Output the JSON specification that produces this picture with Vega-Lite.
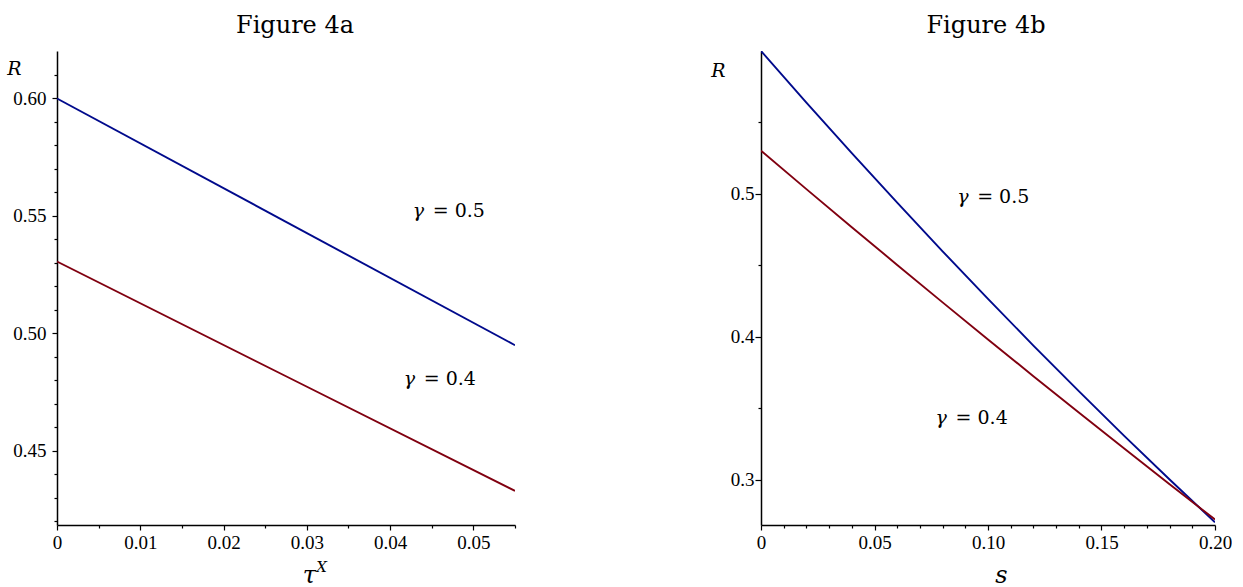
{
  "$schema": "https://vega.github.io/schema/vega-lite/v6.json",
  "padding": {"left": 6, "top": 14, "right": 0, "bottom": 0},
  "background": "white",
  "spacing": 194,
  "config": {
    "view": {"stroke": null},
    "axis": {
      "grid": false,
      "domainColor": "#000000",
      "domainWidth": 1.5,
      "tickColor": "#000000",
      "tickWidth": 1.2,
      "labelColor": "#000000",
      "labelFont": "Liberation Serif",
      "labelFontSize": 19,
      "labelOverlap": false,
      "titleFont": "DejaVu Serif",
      "titleFontStyle": "italic",
      "titleFontWeight": "normal",
      "titleColor": "#000000"
    },
    "title": {"font": "DejaVu Serif", "fontSize": 24, "fontWeight": "normal", "color": "#000000"}
  },
  "datasets": {
    "curves": [
      {"panel": "a", "x": 0, "R": 0.600, "gamma": "0.5"},
      {"panel": "a", "x": 0.0275, "R": 0.5475, "gamma": "0.5"},
      {"panel": "a", "x": 0.055, "R": 0.495, "gamma": "0.5"},
      {"panel": "a", "x": 0, "R": 0.5306, "gamma": "0.4"},
      {"panel": "a", "x": 0.0275, "R": 0.4818, "gamma": "0.4"},
      {"panel": "a", "x": 0.055, "R": 0.4330, "gamma": "0.4"},
      {"panel": "b", "x": 0, "R": 0.600, "gamma": "0.5"},
      {"panel": "b", "x": 0.02, "R": 0.5639, "gamma": "0.5"},
      {"panel": "b", "x": 0.04, "R": 0.5286, "gamma": "0.5"},
      {"panel": "b", "x": 0.06, "R": 0.4939, "gamma": "0.5"},
      {"panel": "b", "x": 0.08, "R": 0.4599, "gamma": "0.5"},
      {"panel": "b", "x": 0.10, "R": 0.4266, "gamma": "0.5"},
      {"panel": "b", "x": 0.12, "R": 0.3940, "gamma": "0.5"},
      {"panel": "b", "x": 0.14, "R": 0.3621, "gamma": "0.5"},
      {"panel": "b", "x": 0.16, "R": 0.3308, "gamma": "0.5"},
      {"panel": "b", "x": 0.18, "R": 0.3003, "gamma": "0.5"},
      {"panel": "b", "x": 0.20, "R": 0.2704, "gamma": "0.5"},
      {"panel": "b", "x": 0, "R": 0.5303, "gamma": "0.4"},
      {"panel": "b", "x": 0.02, "R": 0.5034, "gamma": "0.4"},
      {"panel": "b", "x": 0.04, "R": 0.4768, "gamma": "0.4"},
      {"panel": "b", "x": 0.06, "R": 0.4504, "gamma": "0.4"},
      {"panel": "b", "x": 0.08, "R": 0.4242, "gamma": "0.4"},
      {"panel": "b", "x": 0.10, "R": 0.3983, "gamma": "0.4"},
      {"panel": "b", "x": 0.12, "R": 0.3726, "gamma": "0.4"},
      {"panel": "b", "x": 0.14, "R": 0.3472, "gamma": "0.4"},
      {"panel": "b", "x": 0.16, "R": 0.3220, "gamma": "0.4"},
      {"panel": "b", "x": 0.18, "R": 0.2970, "gamma": "0.4"},
      {"panel": "b", "x": 0.20, "R": 0.2723, "gamma": "0.4"}
    ],
    "labels": [
      {"panel": "a", "x": 0.04272, "R": 0.5520, "greek": "γ", "rest": "= 0.5"},
      {"panel": "a", "x": 0.04164, "R": 0.4807, "greek": "γ", "rest": "= 0.4"},
      {"panel": "b", "x": 0.0864, "R": 0.4982, "greek": "γ", "rest": "= 0.5"},
      {"panel": "b", "x": 0.0769, "R": 0.3431, "greek": "γ", "rest": "= 0.4"}
    ],
    "superscripts": [
      {"panel": "a", "x": 0.03178, "R": 0.3985, "text": "X"}
    ]
  },
  "hconcat": [
    {
      "width": 458,
      "height": 474,
      "title": {"text": "Figure 4a", "anchor": "middle", "frame": "group", "dx": 9, "baseline": "alphabetic", "offset": -6},
      "layer": [
        {
          "data": {"name": "curves"},
          "transform": [{"filter": "datum.panel === 'a'"}],
          "mark": {"type": "line", "strokeWidth": 1.9, "clip": true},
          "encoding": {
            "x": {
              "field": "x", "type": "quantitative",
              "scale": {"domain": [0, 0.055], "nice": false, "zero": false},
              "axis": {
                "values": [0, 0.005, 0.01, 0.015, 0.02, 0.025, 0.03, 0.035, 0.04, 0.045, 0.05, 0.055],
                "tickCount": 1000,
                "labelExpr": "abs(datum.value*100 - round(datum.value*100)) < 0.001 ? (datum.value == 0 ? '0' : format(datum.value, '.2f')) : ''",
                "tickSize": {"condition": {"test": "abs(datum.value*100 - round(datum.value*100)) < 0.001", "value": 5}, "value": 3},
                "labelPadding": 3,
                "labelFlush": false,
                "labelOverlap": false,
                "title": "τ",
                "titleFontSize": 24,
                "titleX": 252,
                "titleY": 57,
                "titleAlign": "center",
                "titleBaseline": "alphabetic"
              }
            },
            "y": {
              "field": "R", "type": "quantitative",
              "scale": {"domain": [0.4185, 0.6202], "nice": false, "zero": false},
              "axis": {
                "values": [0.42, 0.43, 0.44, 0.45, 0.46, 0.47, 0.48, 0.49, 0.5, 0.51, 0.52, 0.53, 0.54, 0.55, 0.56, 0.57, 0.58, 0.59, 0.6, 0.61],
                "tickCount": 1000,
                "labelExpr": "abs(datum.value*20 - round(datum.value*20)) < 0.001 ? format(datum.value, '.2f') : ''",
                "tickSize": {"condition": {"test": "abs(datum.value*20 - round(datum.value*20)) < 0.001", "value": 5}, "value": 3},
                "labelPadding": 6,
                "labelFlush": false,
                "labelOverlap": false,
                "title": "R",
                "titleFontSize": 19,
                "titleAngle": 0,
                "titleX": -43,
                "titleY": 17,
                "titleAlign": "center",
                "titleBaseline": "middle"
              }
            },
            "color": {
              "field": "gamma", "type": "nominal",
              "scale": {"domain": ["0.5", "0.4"], "range": ["#000A8C", "#800010"]},
              "legend": null
            }
          }
        },
        {
          "data": {"name": "labels"},
          "transform": [{"filter": "datum.panel === 'a'"}],
          "mark": {"type": "text", "font": "DejaVu Serif", "fontSize": 19, "fontStyle": "italic", "align": "left", "baseline": "middle", "color": "#000000"},
          "encoding": {
            "x": {"field": "x", "type": "quantitative"},
            "y": {"field": "R", "type": "quantitative"},
            "text": {"field": "greek"}
          }
        },
        {
          "data": {"name": "labels"},
          "transform": [{"filter": "datum.panel === 'a'"}],
          "mark": {"type": "text", "font": "DejaVu Serif", "fontSize": 19, "align": "left", "baseline": "middle", "dx": 20, "color": "#000000"},
          "encoding": {
            "x": {"field": "x", "type": "quantitative"},
            "y": {"field": "R", "type": "quantitative"},
            "text": {"field": "rest"}
          }
        },
        {
          "data": {"name": "superscripts"},
          "transform": [{"filter": "datum.panel === 'a'"}],
          "mark": {"type": "text", "font": "DejaVu Serif", "fontSize": 15, "fontStyle": "italic", "align": "center", "baseline": "alphabetic", "color": "#000000"},
          "encoding": {
            "x": {"field": "x", "type": "quantitative"},
            "y": {"field": "R", "type": "quantitative"},
            "text": {"field": "text"}
          }
        }
      ]
    },
    {
      "width": 454,
      "height": 474,
      "title": {"text": "Figure 4b", "anchor": "middle", "frame": "group", "dx": -2, "baseline": "alphabetic", "offset": -6},
      "layer": [
        {
          "data": {"name": "curves"},
          "transform": [{"filter": "datum.panel === 'b'"}],
          "mark": {"type": "line", "strokeWidth": 1.9, "clip": true},
          "encoding": {
            "x": {
              "field": "x", "type": "quantitative",
              "scale": {"domain": [0, 0.2], "nice": false, "zero": false},
              "axis": {
                "values": [0, 0.01, 0.02, 0.03, 0.04, 0.05, 0.06, 0.07, 0.08, 0.09, 0.1, 0.11, 0.12, 0.13, 0.14, 0.15, 0.16, 0.17, 0.18, 0.19, 0.2],
                "tickCount": 1000,
                "labelExpr": "abs(datum.value*20 - round(datum.value*20)) < 0.001 ? (datum.value == 0 ? '0' : format(datum.value, '.2f')) : ''",
                "tickSize": {"condition": {"test": "abs(datum.value*20 - round(datum.value*20)) < 0.001", "value": 5}, "value": 3},
                "labelPadding": 3,
                "labelFlush": false,
                "labelOverlap": false,
                "title": "s",
                "titleFontSize": 24,
                "titleX": 240,
                "titleY": 57,
                "titleAlign": "center",
                "titleBaseline": "alphabetic"
              }
            },
            "y": {
              "field": "R", "type": "quantitative",
              "scale": {"domain": [0.2685, 0.6], "nice": false, "zero": false},
              "axis": {
                "values": [0.3, 0.35, 0.4, 0.45, 0.5, 0.55],
                "tickCount": 1000,
                "labelExpr": "abs(datum.value*10 - round(datum.value*10)) < 0.001 ? format(datum.value, '.1f') : ''",
                "tickSize": {"condition": {"test": "abs(datum.value*10 - round(datum.value*10)) < 0.001", "value": 6}, "value": 3},
                "labelPadding": 1,
                "labelFlush": false,
                "labelOverlap": false,
                "title": "R",
                "titleFontSize": 19,
                "titleAngle": 0,
                "titleX": -43,
                "titleY": 19,
                "titleAlign": "center",
                "titleBaseline": "middle"
              }
            },
            "color": {
              "field": "gamma", "type": "nominal",
              "scale": {"domain": ["0.5", "0.4"], "range": ["#000A8C", "#800010"]},
              "legend": null
            }
          }
        },
        {
          "data": {"name": "labels"},
          "transform": [{"filter": "datum.panel === 'b'"}],
          "mark": {"type": "text", "font": "DejaVu Serif", "fontSize": 19, "fontStyle": "italic", "align": "left", "baseline": "middle", "color": "#000000"},
          "encoding": {
            "x": {"field": "x", "type": "quantitative"},
            "y": {"field": "R", "type": "quantitative"},
            "text": {"field": "greek"}
          }
        },
        {
          "data": {"name": "labels"},
          "transform": [{"filter": "datum.panel === 'b'"}],
          "mark": {"type": "text", "font": "DejaVu Serif", "fontSize": 19, "align": "left", "baseline": "middle", "dx": 20, "color": "#000000"},
          "encoding": {
            "x": {"field": "x", "type": "quantitative"},
            "y": {"field": "R", "type": "quantitative"},
            "text": {"field": "rest"}
          }
        }
      ]
    }
  ]
}
